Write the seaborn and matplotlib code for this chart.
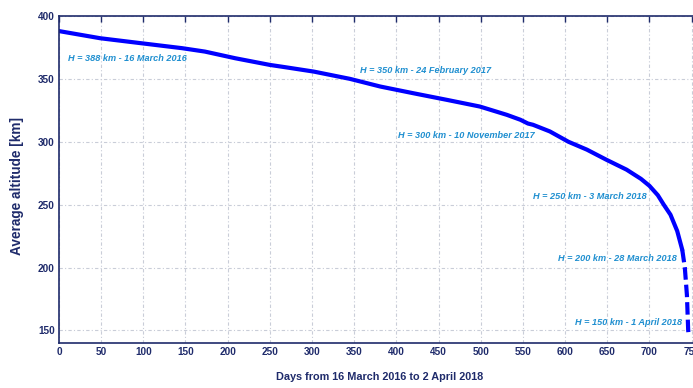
import matplotlib
matplotlib.use("Agg")
import matplotlib.pyplot as plt
import seaborn as sns
import pandas as pd

# Mean orbital altitude over time (days since 16 March 2016)
days = [0, 49, 98, 146, 173, 209, 250, 268, 302, 345, 381, 420, 460, 499,
        531, 547, 556, 562, 582, 604, 626, 649, 673, 690, 700, 710, 717,
        725, 733, 739, 742, 744.5, 746, 746.8]
altitude = [388, 382.3, 378.3, 374.4, 371.7, 366.4, 361.1, 359.3, 355.8, 350,
            343.9, 338.6, 333.3, 328, 321.4, 317.5, 314.5, 313.5, 308.2, 300,
            293.7, 285.7, 277.8, 270.5, 265, 257.5, 250, 242, 229, 214, 200,
            178, 150, 145]
tail_start = 739  # last days before re-entry are sparsely sampled

# Milestone annotations: (text, day where text starts, altitude of text)
labels = ["H = 388 km - 16 March 2016", "H = 350 km - 24 February 2017",
          "H = 300 km - 10 November 2017", "H = 250 km - 3 March 2018",
          "H = 200 km - 28 March 2018", "H = 150 km - 1 April 2018"]
label_day = [11, 357, 402, 562, 592, 612]
label_alt = [365.9, 356.3, 304.8, 256.3, 207, 156.5]

x_ticks = list(range(0, 751, 50))
y_ticks = list(range(150, 401, 50))

navy = "#1f2b6b"
sns.set_theme(style="white")
plt.rcParams["font.family"] = ["Liberation Sans", "DejaVu Sans"]

fig = plt.figure(figsize=(6.93, 3.88), dpi=100)
ax = fig.add_axes([0.0851, 0.116, 0.925, 0.8428])

df = pd.DataFrame({"day": days, "alt": altitude})
main = df[df["day"] <= tail_start]
tail = df[df["day"] >= tail_start]
sns.lineplot(data=main, x="day", y="alt", ax=ax, color="#0000ff",
             linewidth=3.0, sort=False)
sns.lineplot(data=tail, x="day", y="alt", ax=ax, color="#0000ff",
             linewidth=3.0, sort=False, dashes=False)
ax.lines[-1].set_dashes((3, 1.2))

for t, d, a in zip(labels, label_day, label_alt):
    ax.text(d, a, t, color="#1f8fd0", fontsize=6.6, fontstyle="italic",
            fontweight="bold", ha="left", va="center")

ax.set_xlim(0, 760)
ax.set_ylim(140, 400)
ax.set_xticks(x_ticks)
ax.set_yticks(y_ticks)
ax.grid(True, color="#c9cdd8", linestyle=(0, (3, 2, 1, 2)), linewidth=0.8)
ax.tick_params(axis="both", which="major", direction="in", length=4, width=1,
               color=navy, labelcolor=navy, labelsize=7.2, top=True,
               right=True, pad=3)
for lab in ax.get_xticklabels() + ax.get_yticklabels():
    lab.set_fontweight("bold")
for s in ax.spines.values():
    s.set_color(navy)
    s.set_linewidth(1.2)

ax.set_xlabel("Days from 16 March 2016 to 2 April 2018", color=navy,
              fontsize=7.8, fontweight="bold", labelpad=11)
ax.set_ylabel("Average altitude [km]", color=navy, fontsize=9.8,
              fontweight="bold", labelpad=10)
ax.yaxis.set_label_coords(-0.054, 0.48)

fig.savefig("out.png", dpi=100)
